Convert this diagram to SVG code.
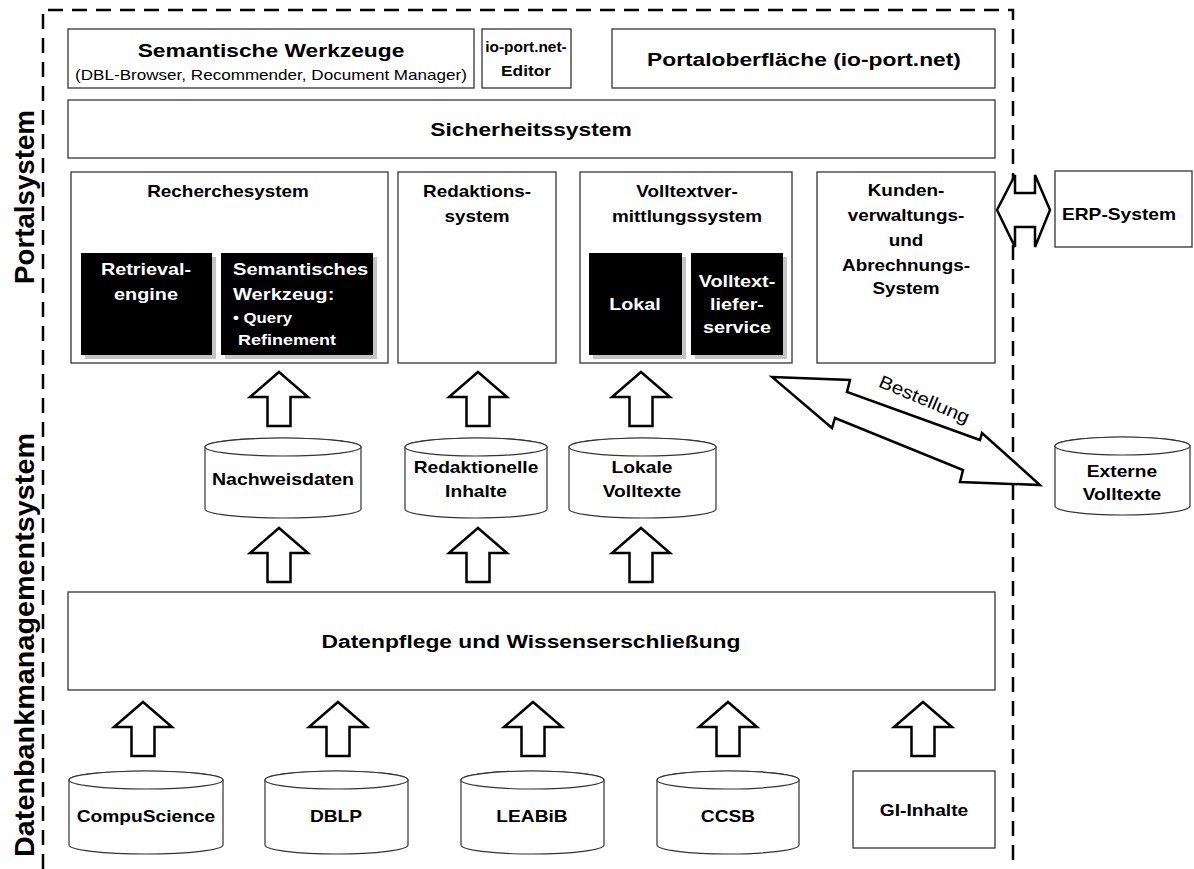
<svg xmlns="http://www.w3.org/2000/svg" xmlns:xlink="http://www.w3.org/1999/xlink" width="1194" height="869" viewBox="0 0 1194 869">
<style>
.bx{fill:#fff;stroke:#333;stroke-width:1.3}
.blk{fill:#000}
.sh{fill:#c4c4c4}
.t{font-family:"Liberation Sans",Arial,sans-serif;font-weight:bold;fill:#000;text-anchor:middle}
.n{font-weight:normal}
.s{text-anchor:start}
.w{fill:#fff}
.f19{font-size:19px}
.f16{font-size:16px}
.f14{font-size:14px}
.arr{fill:#fff;stroke:#000;stroke-width:2.5;stroke-linejoin:miter}
.cyl{fill:#fff;stroke:#333;stroke-width:1.2}
.border{fill:none;stroke:#000;stroke-width:2.5;stroke-dasharray:15 9}
</style>
<defs>
<path id="up" d="M0,0 L29,25 L11.5,25 L11.5,54 L-11.5,54 L-11.5,25 L-29,25 Z"/>
</defs>
<rect width="1194" height="869" fill="#fff"/>

<g id="labels">
<text class="t" style="font-size:28px" transform="translate(34,197) rotate(-90)" textLength="174" lengthAdjust="spacingAndGlyphs">Portalsystem</text>
<text class="t" style="font-size:28px" transform="translate(34,645) rotate(-90)" textLength="424" lengthAdjust="spacingAndGlyphs">Datenbankmanagementsystem</text>
</g>

<path class="border" d="M43,869 L43,10 L1013,10 L1013,869"/>

<g id="semantische-werkzeuge">
<rect class="bx" x="68" y="29" width="406" height="59"/>
<text class="t f19" transform="translate(271,57) scale(1.2,1)">Semantische Werkzeuge</text>
<text class="t f14 n" transform="translate(271,80) scale(1.22,1)">(DBL-Browser, Recommender, Document Manager)</text>
</g>
<g id="ioport-editor">
<rect class="bx" x="482" y="29" width="89" height="59"/>
<text class="t" style="font-size:15px" transform="translate(526,52) scale(1.03,1)">io-port.net-</text>
<text class="t" style="font-size:15px" transform="translate(526,76) scale(1.15,1)">Editor</text>
</g>
<g id="portaloberflaeche">
<rect class="bx" x="612" y="29" width="383" height="59"/>
<text class="t f19" transform="translate(804,66) scale(1.2,1)">Portaloberfläche (io-port.net)</text>
</g>
<g id="sicherheitssystem">
<rect class="bx" x="68" y="100" width="927" height="58"/>
<text class="t f19" transform="translate(531,136) scale(1.2,1)">Sicherheitssystem</text>
</g>

<g id="recherchesystem">
<rect class="bx" x="71" y="172" width="317" height="191"/>
<text class="t f16" transform="translate(228,197) scale(1.18,1)">Recherchesystem</text>
<rect class="sh" x="85" y="257" width="131" height="102"/>
<rect class="blk" x="81" y="253" width="131" height="102"/>
<text class="t f16 w" style="font-size:16.5px" transform="translate(146,275) scale(1.2,1)">Retrieval-</text>
<text class="t f16 w" style="font-size:16.5px" transform="translate(146,300) scale(1.2,1)">engine</text>
<rect class="sh" x="225" y="257" width="152" height="102"/>
<rect class="blk" x="221" y="253" width="152" height="102"/>
<text class="t f16 w s" style="font-size:16.5px" transform="translate(233,275) scale(1.22,1)">Semantisches</text>
<text class="t f16 w s" style="font-size:16.5px" transform="translate(233,300) scale(1.22,1)">Werkzeug:</text>
<text class="t w s" style="font-size:14px" transform="translate(233,323) scale(1.2,1)">• Query</text>
<text class="t w s" style="font-size:15px" transform="translate(238,345) scale(1.2,1)">Refinement</text>
</g>

<g id="redaktionssystem">
<rect class="bx" x="398" y="172" width="158" height="191"/>
<text class="t f16" transform="translate(477,197) scale(1.18,1)">Redaktions-</text>
<text class="t f16" transform="translate(477,222) scale(1.18,1)">system</text>
</g>

<g id="volltextvermittlungssystem">
<rect class="bx" x="580" y="172" width="212" height="191"/>
<text class="t f16" transform="translate(687,197) scale(1.18,1)">Volltextver-</text>
<text class="t f16" transform="translate(687,222) scale(1.18,1)">mittlungssystem</text>
<rect class="sh" x="593" y="257" width="93" height="102"/>
<rect class="blk" x="589" y="253" width="93" height="102"/>
<text class="t f16 w" style="font-size:16.5px" transform="translate(635,310) scale(1.2,1)">Lokal</text>
<rect class="sh" x="695" y="257" width="92" height="102"/>
<rect class="blk" x="691" y="253" width="92" height="102"/>
<text class="t f16 w" style="font-size:16.5px" transform="translate(737,287) scale(1.2,1)">Volltext-</text>
<text class="t f16 w" style="font-size:16.5px" transform="translate(737,310) scale(1.2,1)">liefer-</text>
<text class="t f16 w" style="font-size:16.5px" transform="translate(737,333) scale(1.2,1)">service</text>
</g>

<g id="kundenverwaltung">
<rect class="bx" x="817" y="172" width="178" height="191"/>
<text class="t f16" transform="translate(906,196) scale(1.18,1)">Kunden-</text>
<text class="t f16" transform="translate(906,221) scale(1.18,1)">verwaltungs-</text>
<text class="t f16" transform="translate(906,246) scale(1.18,1)">und</text>
<text class="t f16" transform="translate(906,271) scale(1.18,1)">Abrechnungs-</text>
<text class="t f16" transform="translate(906,294) scale(1.18,1)">System</text>
</g>

<g id="erp-system">
<rect class="bx" x="1055" y="171" width="137" height="76"/>
<text class="t f16" transform="translate(1119,220) scale(1.2,1)">ERP-System</text>
</g>

<g id="nachweisdaten">
<path class="cyl" d="M205,447 L205,509 A78,9 0 0 0 361,509 L361,447 A78,9 0 0 0 205,447 Z"/>
<ellipse class="cyl" cx="283" cy="447" rx="78" ry="9"/>
<text class="t f16" transform="translate(283,485) scale(1.22,1)">Nachweisdaten</text>
</g>
<g id="redaktionelle-inhalte">
<path class="cyl" d="M405,447 L405,509 A71,9 0 0 0 547,509 L547,447 A71,9 0 0 0 405,447 Z"/>
<ellipse class="cyl" cx="476" cy="447" rx="71" ry="9"/>
<text class="t f16" transform="translate(476,473) scale(1.2,1)">Redaktionelle</text>
<text class="t f16" transform="translate(476,497) scale(1.2,1)">Inhalte</text>
</g>
<g id="lokale-volltexte">
<path class="cyl" d="M569,447 L569,509 A73.5,9 0 0 0 716,509 L716,447 A73.5,9 0 0 0 569,447 Z"/>
<ellipse class="cyl" cx="642.5" cy="447" rx="73.5" ry="9"/>
<text class="t f16" transform="translate(642,473) scale(1.2,1)">Lokale</text>
<text class="t f16" transform="translate(642,497) scale(1.2,1)">Volltexte</text>
</g>
<g id="externe-volltexte">
<path class="cyl" d="M1055,446 L1055,506 A67.5,9 0 0 0 1190,506 L1190,446 A67.5,9 0 0 0 1055,446 Z"/>
<ellipse class="cyl" cx="1122.5" cy="446" rx="67.5" ry="9"/>
<text class="t f16" transform="translate(1122,477) scale(1.2,1)">Externe</text>
<text class="t f16" transform="translate(1122,500) scale(1.2,1)">Volltexte</text>
</g>

<g id="datenpflege">
<rect class="bx" x="68" y="592" width="927" height="98"/>
<text class="t f19" transform="translate(531,648) scale(1.2,1)">Datenpflege und Wissenserschließung</text>
</g>

<g id="compuscience">
<path class="cyl" d="M69,780 L69,845 A77,9 0 0 0 223,845 L223,780 A77,9 0 0 0 69,780 Z"/>
<ellipse class="cyl" cx="146" cy="780" rx="77" ry="9"/>
<text class="t f16" transform="translate(146,822) scale(1.2,1)">CompuScience</text>
</g>
<g id="dblp">
<path class="cyl" d="M265,780 L265,845 A71.5,9 0 0 0 408,845 L408,780 A71.5,9 0 0 0 265,780 Z"/>
<ellipse class="cyl" cx="336.5" cy="780" rx="71.5" ry="9"/>
<text class="t f16" transform="translate(336,822) scale(1.2,1)">DBLP</text>
</g>
<g id="leabib">
<path class="cyl" d="M461,780 L461,845 A71.5,9 0 0 0 604,845 L604,780 A71.5,9 0 0 0 461,780 Z"/>
<ellipse class="cyl" cx="532.5" cy="780" rx="71.5" ry="9"/>
<text class="t f16" transform="translate(532,822) scale(1.2,1)">LEABiB</text>
</g>
<g id="ccsb">
<path class="cyl" d="M657,780 L657,845 A71,9 0 0 0 799,845 L799,780 A71,9 0 0 0 657,780 Z"/>
<ellipse class="cyl" cx="728" cy="780" rx="71" ry="9"/>
<text class="t f16" transform="translate(728,822) scale(1.2,1)">CCSB</text>
</g>
<g id="gi-inhalte">
<rect class="bx" x="853" y="771" width="142" height="77"/>
<text class="t f16" transform="translate(924,816) scale(1.2,1)">GI-Inhalte</text>
</g>

<g id="connectors">
<use xlink:href="#up" href="#up" class="arr" x="279" y="372"/>
<use xlink:href="#up" href="#up" class="arr" x="478" y="372"/>
<use xlink:href="#up" href="#up" class="arr" x="641" y="372"/>
<use xlink:href="#up" href="#up" class="arr" x="279" y="528"/>
<use xlink:href="#up" href="#up" class="arr" x="478" y="528"/>
<use xlink:href="#up" href="#up" class="arr" x="641" y="528"/>
<use xlink:href="#up" href="#up" class="arr" x="143" y="702"/>
<use xlink:href="#up" href="#up" class="arr" x="338" y="702"/>
<use xlink:href="#up" href="#up" class="arr" x="533" y="702"/>
<use xlink:href="#up" href="#up" class="arr" x="728" y="702"/>
<use xlink:href="#up" href="#up" class="arr" x="923" y="702"/>
<path class="arr" stroke-width="2" d="M997,210 L1015,175 L1015,193 L1035,193 L1035,175 L1050,210 L1035,247 L1035,227 L1015,227 L1015,247 Z"/>
<path class="arr" d="M772,377 L850,380 L847,392 L980,440 L982,433 L1040,485 L960,482 L963,470 L835,418 L832,428 Z"/>
<text class="t n" style="font-size:18px" transform="translate(922,405) rotate(23) scale(1.15,1)">Bestellung</text>
</g>
</svg>
